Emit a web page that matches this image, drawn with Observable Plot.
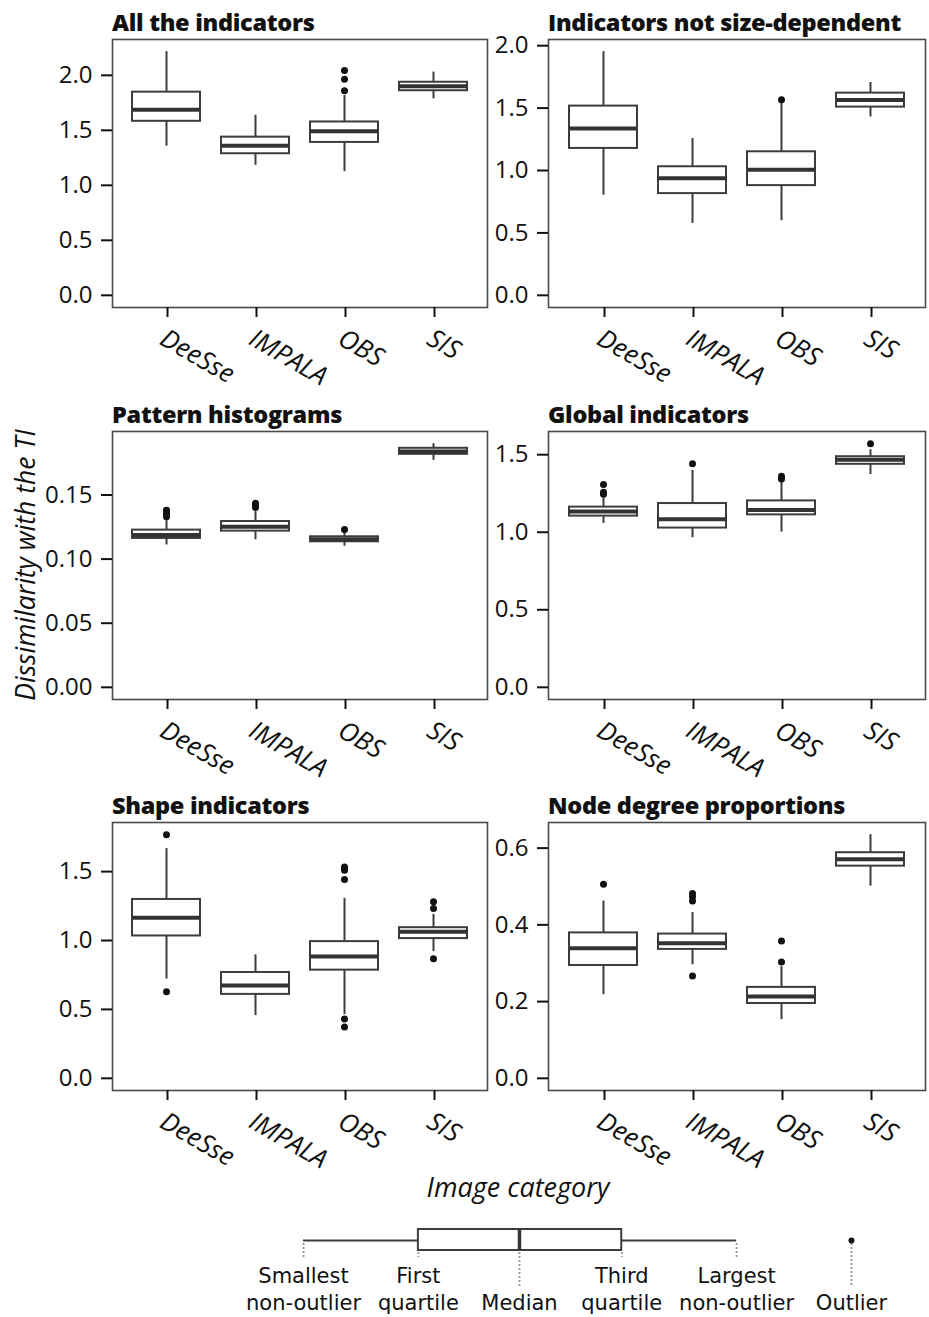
<!DOCTYPE html>
<html><head><meta charset="utf-8">
<script src="https://cdn.jsdelivr.net/npm/d3@7"></script>
<script src="https://cdn.jsdelivr.net/npm/@observablehq/plot@0.6"></script>
<style>
body{margin:0;background:#fff;}
#root{position:relative;width:929px;height:1317px;font-family:"Open Sans",sans-serif;color:#111;overflow:hidden;background:#fff;}
.title{position:absolute;font-weight:800;font-size:23.5px;white-space:nowrap;line-height:1;letter-spacing:-0.3px;}
.panel{position:absolute;}
.panel svg{overflow:visible;}
.axislabel{position:absolute;font-style:italic;white-space:nowrap;line-height:1;}
</style></head><body><div id="root"></div>
<script>
const categories = ["DeeSse","IMPALA","OBS","SIS"];
const panelTitles = ["All the indicators","Indicators not size-dependent","Pattern histograms","Global indicators","Shape indicators","Node degree proportions"];
const whiskerLow = [
 [1.356,1.182,1.124,1.787],
 [0.802,0.576,0.598,1.429],
 [0.111,0.115,0.110,0.177],
 [1.057,0.965,1.001,1.372],
 [0.720,0.455,0.462,0.920],
 [0.218,0.296,0.153,0.501]
];
const firstQuartile = [
 [1.582,1.287,1.390,1.860],
 [1.177,0.815,0.879,1.508],
 [0.1161,0.1218,0.1135,0.1817],
 [1.104,1.027,1.112,1.438],
 [1.033,0.609,0.785,1.014],
 [0.294,0.336,0.195,0.553]
];
const medians = [
 [1.688,1.359,1.492,1.901],
 [1.336,0.938,1.006,1.564],
 [0.1187,0.1252,0.1155,0.1840],
 [1.134,1.083,1.144,1.468],
 [1.166,0.674,0.884,1.064],
 [0.339,0.352,0.213,0.571]
];
const thirdQuartile = [
 [1.847,1.438,1.576,1.937],
 [1.516,1.030,1.150,1.620],
 [0.1226,0.1293,0.1174,0.1864],
 [1.162,1.185,1.202,1.487],
 [1.298,0.768,0.992,1.093],
 [0.379,0.376,0.237,0.588]
];
const whiskerHigh = [
 [2.215,1.637,1.817,2.030],
 [1.952,1.256,1.550,1.705],
 [0.130,0.137,0.121,0.190],
 [1.221,1.399,1.322,1.532],
 [1.667,0.896,1.306,1.190],
 [0.462,0.432,0.291,0.635]
];
const outliers = [
 [[],[],[2.043,1.965,1.860],[]],
 [[],[],[1.567],[]],
 [[0.138,0.137,0.135,0.133],[0.1436,0.142,0.1402],[0.1231],[]],
 [[1.307,1.258,1.245],[1.442],[1.361,1.343],[1.571]],
 [[1.768,0.629],[],[1.534,1.52,1.51,1.443,0.431,0.373],[1.281,1.233,0.867]],
 [[0.506],[0.482,0.473,0.462,0.267],[0.358,0.303],[]]
];
const yTicks = [
 [0,0.5,1,1.5,2],
 [0,0.5,1,1.5,2],
 [0,0.05,0.1,0.15],
 [0,0.5,1,1.5],
 [0,0.5,1,1.5],
 [0,0.2,0.4,0.6]
];
const yTickDecimals = [1,1,2,1,1,1];
const yAxisLabel = "Dissimilarity with the TI";
const xAxisLabel = "Image category";
const legendLabels = ["Smallest\nnon-outlier","First\nquartile","Median","Third\nquartile","Largest\nnon-outlier","Outlier"];
const legendSchematic = [0, 1, 1.88, 2.77, 3.77, 4.77];

const root = document.getElementById("root");
const rowFrameTop = [39, 431, 822];
const frameH = 268;
const mTop = 12, mBottom = 90;
const boxStroke = "#3d3d3d";

panelTitles.forEach((t, i) => {
  const col = i % 2, row = Math.floor(i / 2);
  const rows = categories.map((c, j) => ({
    category: c, lo: whiskerLow[i][j], q1: firstQuartile[i][j], median: medians[i][j],
    q3: thirdQuartile[i][j], hi: whiskerHigh[i][j]
  }));
  const outRows = categories.flatMap((c, j) => outliers[i][j].map(v => ({category: c, value: v})));
  const M = d3.max([...whiskerHigh[i], ...outliers[i].flat()]);
  const left = col === 0 ? 0 : 490;
  const width = col === 0 ? 490 : 439;
  const marginLeft = col === 0 ? 112 : 58;
  const marginRight = col === 0 ? 3 : 4;
  const dec = yTickDecimals[i];
  const p = Plot.plot({
    width, height: mTop + frameH + mBottom,
    marginLeft, marginRight, marginTop: mTop, marginBottom: mBottom,
    style: {fontFamily: '"Open Sans", sans-serif', fontSize: "24px", color: "#111", background: "transparent", overflow: "visible"},
    x: {type: "band", domain: categories, paddingInner: 0.24, paddingOuter: 0.22, label: null},
    y: {domain: [-0.05 * M, 1.05 * M], label: null},
    marks: [
      Plot.frame({stroke: "#4a4a4a", strokeWidth: 1.6}),
      Plot.ruleX(rows, {x: "category", y1: "lo", y2: "q1", stroke: boxStroke, strokeWidth: 2}),
      Plot.ruleX(rows, {x: "category", y1: "q3", y2: "hi", stroke: boxStroke, strokeWidth: 2}),
      Plot.barY(rows, {x: "category", y1: "q1", y2: "q3", fill: "white", stroke: boxStroke, strokeWidth: 2}),
      Plot.tickY(rows, {x: "category", y: "median", stroke: "#333", strokeWidth: 4}),
      Plot.dot(outRows, {x: "category", y: "value", r: 3.5, fill: "#111"}),
      Plot.axisY({ticks: yTicks[i], tickFormat: d => d.toFixed(dec), tickSize: 11, tickPadding: 9, strokeWidth: 2, fontSize: 24, label: null}),
      Plot.axisX({tickSize: 10, tickPadding: 10, tickRotate: 30, textAnchor: "start", lineAnchor: "top", dx: 1, fontStyle: "italic", fontSize: 26, strokeWidth: 2, label: null})
    ]
  });
  const wrap = document.createElement("div");
  wrap.className = "panel";
  wrap.style.left = left + "px";
  wrap.style.top = (rowFrameTop[row] - mTop) + "px";
  wrap.appendChild(p);
  root.appendChild(wrap);

  const td = document.createElement("div");
  td.className = "title";
  td.textContent = t;
  td.style.left = (left + marginLeft) + "px";
  td.style.top = (rowFrameTop[row] - 7 - 0.888 * 23.5) + "px";
  root.appendChild(td);
});

// Axis labels
const yl = document.createElement("div");
yl.className = "axislabel";
yl.textContent = yAxisLabel;
yl.style.fontSize = "26.5px";
yl.style.left = "25px"; yl.style.top = "565px";
yl.style.transform = "translate(-50%,-50%) rotate(-90deg)";
root.appendChild(yl);

const xl = document.createElement("div");
xl.className = "axislabel";
xl.textContent = xAxisLabel;
xl.style.fontSize = "27px";
xl.style.left = "518px"; xl.style.top = (1197 - 0.888 * 27) + "px";
xl.style.transform = "translateX(-50%)";
root.appendChild(xl);

// Legend (schematic box)
const [lo, q1, med, q3, hi, out] = legendSchematic;
const legendBox = [{lo, q1, med, q3, hi, out}];
const legendItems = legendLabels.map((label, k) => {
  const single = !label.includes("\n");
  const onBox = k >= 1 && k <= 3;
  return {label, v: legendSchematic[k], top: onBox ? 37 : 28, bottom: single ? 72 : 42};
});
const lg = Plot.plot({
  width: 929, height: 102, margin: 0,
  style: {fontFamily: '"DejaVu Sans", sans-serif', fontSize: "21px", color: "#111", background: "transparent", overflow: "visible"},
  x: {domain: [lo, out], range: [303, 851], axis: null},
  y: {domain: [0, 102], range: [0, 102], axis: null},
  marks: [
    Plot.ruleX(legendItems, {x: "v", y1: "top", y2: "bottom", stroke: "#9a9a9a", strokeWidth: 2, strokeDasharray: "2,2"}),
    Plot.ruleY(legendBox, {x1: "lo", x2: "q1", y: 25, stroke: boxStroke, strokeWidth: 2}),
    Plot.ruleY(legendBox, {x1: "q3", x2: "hi", y: 25, stroke: boxStroke, strokeWidth: 2}),
    Plot.rect(legendBox, {x1: "q1", x2: "q3", y1: 14, y2: 35, fill: "white", stroke: boxStroke, strokeWidth: 2}),
    Plot.ruleX(legendBox, {x: "med", y1: 14, y2: 35, stroke: "#333", strokeWidth: 3.5}),
    Plot.dot(legendBox, {x: "out", y: 25, r: 3, fill: "#111"}),
    Plot.text(legendItems, {x: "v", y: 94, text: "label", lineAnchor: "bottom", lineHeight: 1.25, fontSize: 21, fontFamily: '"DejaVu Sans", sans-serif', fill: "#111"})
  ]
});
const lw = document.createElement("div");
lw.className = "panel";
lw.style.left = "0px"; lw.style.top = "1215px";
lw.appendChild(lg);
root.appendChild(lw);
</script></body></html>
